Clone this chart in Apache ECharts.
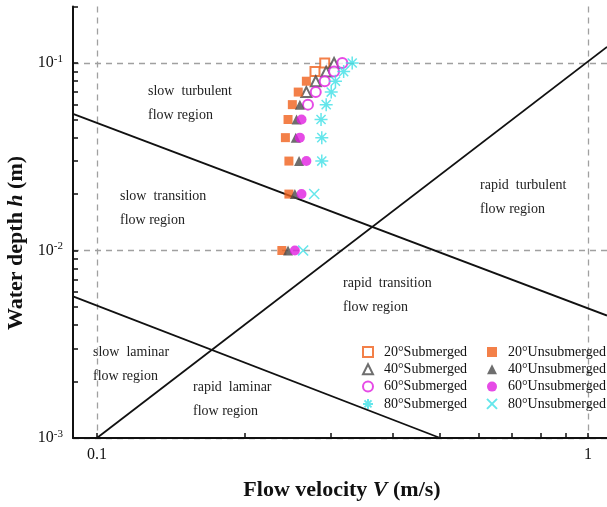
<!DOCTYPE html>
<html>
<head>
<meta charset="utf-8">
<script src="https://cdn.jsdelivr.net/npm/echarts@6/dist/echarts.min.js"></script>
<style>
  html, body { margin: 0; padding: 0; background: #fff; }
  #chart { width: 607px; height: 507px; }
</style>
</head>
<body>
<div id="chart"></div>
<script>
// measured points: velocity V (m/s) and water depth h (m)
const velSub20 = [0.291, 0.278];
const depthSub20 = [0.1, 0.09];
const velUns20 = [0.267, 0.257, 0.250, 0.245, 0.242, 0.246, 0.246, 0.238];
const depthUns20 = [0.08, 0.07, 0.06, 0.05, 0.04, 0.03, 0.02, 0.01];

const velSub40 = [0.304, 0.293, 0.279, 0.267];
const depthSub40 = [0.1, 0.09, 0.08, 0.07];
const velUns40 = [0.259, 0.255, 0.254, 0.258, 0.253, 0.245];
const depthUns40 = [0.06, 0.05, 0.04, 0.03, 0.02, 0.01];

const velSub60 = [0.316, 0.304, 0.291, 0.279, 0.269];
const depthSub60 = [0.1, 0.09, 0.08, 0.07, 0.06];
const velUns60 = [0.261, 0.259, 0.267, 0.261, 0.253];
const depthUns60 = [0.05, 0.04, 0.03, 0.02, 0.01];

const velSub80 = [0.331, 0.318, 0.306, 0.300, 0.293, 0.286, 0.287, 0.287];
const depthSub80 = [0.1, 0.09, 0.08, 0.07, 0.06, 0.05, 0.04, 0.03];
const velUns80 = [0.277, 0.263];
const depthUns80 = [0.02, 0.01];

// region boundary lines (end points)
const lowReV = [0.0894, 0.5];
const lowReH = [0.0057, 0.001];
const highReV = [0.0894, 1.093];
const highReH = [0.0535, 0.0045];
const froudeV = [0.1, 1.093];
const froudeH = [0.001, 0.122];

// ticks
const xMajorTicks = [0.1, 1];
const xMinorTicks = [0.2, 0.3, 0.4, 0.5, 0.6, 0.7, 0.8, 0.9];
const yMajorTicks = [0.001, 0.01, 0.1];
const yMinorTicks = [0.002, 0.003, 0.004, 0.005, 0.006, 0.007, 0.008, 0.009,
  0.02, 0.03, 0.04, 0.05, 0.06, 0.07, 0.08, 0.09, 0.2];

const subNames = ['20°Submerged', '40°Submerged', '60°Submerged', '80°Submerged'];
const unsNames = ['20°Unsubmerged', '40°Unsubmerged', '60°Unsubmerged', '80°Unsubmerged'];

const serif = 'Liberation Serif';
const orange = '#f0601c';
const gray = '#4a4a4a';
const magenta = '#e01ee0';
const cyan = '#3fe0e6';
const asterisk = 'path://M5,0L5,10M0,5L10,5M1.5,1.5L8.5,8.5M1.5,8.5L8.5,1.5';
const cross = 'path://M0,0L10,10M0,10L10,0';

function pairs(vs, hs) {
  return vs.map((v, i) => [v, hs[i]]);
}

function boundary(vs, hs) {
  return {
    type: 'line',
    data: pairs(vs, hs),
    symbol: 'none',
    silent: true,
    lineStyle: { color: '#111', width: 1.8 },
    z: 1
  };
}

function points(name, vs, hs, symbol, size, color, extra) {
  return Object.assign({
    name: name,
    type: 'scatter',
    data: pairs(vs, hs),
    symbol: symbol,
    symbolSize: size,
    itemStyle: { color: color, borderWidth: 1.5 },
    z: 3
  }, extra || {});
}

function legendColumn(names, left) {
  return {
    data: names, orient: 'vertical', left: left, top: 338.5,
    itemWidth: 10, itemHeight: 10, itemGap: 0.3,
    textStyle: { fontFamily: serif, fontSize: 14, color: '#111', lineHeight: 17, padding: [0, 0, 0, 6] }
  };
}

const gridLine = { show: true, lineStyle: { color: '#a0a0a0', type: [6, 5], width: 1.3 } };
const axisLine = { show: true, onZero: false, lineStyle: { color: '#111', width: 2 } };
const tickLine = { color: '#111', width: 1.5 };
const titleRich = { i: { fontStyle: 'italic', fontWeight: 'bold', fontSize: 22, fontFamily: serif } };
const regionFont = '14px "Liberation Serif"';

const chart = echarts.init(document.getElementById('chart'), null, { renderer: 'canvas' });

const option = {
  animation: false,
  grid: { left: 73, right: 0, top: 6.6, bottom: 69 },
  xAxis: [
    {
      type: 'log', min: 0.0894, max: 1.093, position: 'bottom',
      axisLine: axisLine,
      axisTick: { show: true, inside: true, length: 5, customValues: xMinorTicks, lineStyle: tickLine },
      axisLabel: { show: false },
      splitLine: { show: false }
    },
    {
      type: 'log', min: 0.0894, max: 1.093, position: 'bottom',
      axisLine: { show: false },
      axisTick: { show: true, inside: true, length: 5, customValues: xMajorTicks, lineStyle: tickLine },
      axisLabel: {
        customValues: xMajorTicks, margin: 9,
        fontFamily: serif, fontSize: 16, color: '#111',
        formatter: (v) => String(+v.toPrecision(3))
      },
      splitLine: gridLine
    }
  ],
  yAxis: [
    {
      type: 'log', min: 0.001, max: 0.2, position: 'left',
      axisLine: axisLine,
      axisTick: { show: true, inside: true, length: 5, customValues: yMinorTicks, lineStyle: tickLine },
      axisLabel: { show: false },
      splitLine: { show: false }
    },
    {
      type: 'log', min: 0.001, max: 0.2, position: 'left',
      axisLine: { show: false },
      axisTick: { show: true, inside: true, length: 5, customValues: yMajorTicks, lineStyle: tickLine },
      axisLabel: {
        customValues: yMajorTicks, margin: 10,
        fontFamily: serif, fontSize: 16, color: '#111',
        formatter: (v) => '10{sup|' + Math.round(Math.log10(v)) + '}',
        rich: { sup: { fontFamily: serif, fontSize: 11, color: '#111', padding: [0, 0, 8, 0] } }
      },
      splitLine: gridLine
    }
  ],
  legend: [legendColumn(subNames, 357), legendColumn(unsNames, 481)],
  graphic: [
    {
      type: 'text', x: 342, y: 490,
      style: {
        text: 'Flow velocity {i|V} (m/s)', align: 'center', verticalAlign: 'middle',
        font: 'bold 22px "Liberation Serif"', fill: '#111', rich: titleRich
      }
    },
    {
      type: 'text', x: 16, y: 243, rotation: Math.PI / 2,
      style: {
        text: 'Water depth {i|h} (m)', align: 'center', verticalAlign: 'middle',
        font: 'bold 22px "Liberation Serif"', fill: '#111', rich: titleRich
      }
    },
    { type: 'text', x: 148, y: 79, style: { text: 'slow  turbulent\nflow region', font: regionFont, lineHeight: 24, fill: '#222' } },
    { type: 'text', x: 120, y: 184, style: { text: 'slow  transition\nflow region', font: regionFont, lineHeight: 24, fill: '#222' } },
    { type: 'text', x: 480, y: 173, style: { text: 'rapid  turbulent\nflow region', font: regionFont, lineHeight: 24, fill: '#222' } },
    { type: 'text', x: 343, y: 271, style: { text: 'rapid  transition\nflow region', font: regionFont, lineHeight: 24, fill: '#222' } },
    { type: 'text', x: 93, y: 340, style: { text: 'slow  laminar\nflow region', font: regionFont, lineHeight: 24, fill: '#222' } },
    { type: 'text', x: 193, y: 375, style: { text: 'rapid  laminar\nflow region', font: regionFont, lineHeight: 24, fill: '#222' } }
  ],
  series: [
    boundary(lowReV, lowReH),
    boundary(highReV, highReH),
    boundary(froudeV, froudeH),
    points(subNames[0], velSub20, depthSub20, 'emptyRect', 9, orange),
    points(subNames[1], velSub40, depthSub40, 'emptyTriangle', 10, gray),
    points(subNames[2], velSub60, depthSub60, 'emptyCircle', 10, magenta),
    points(subNames[3], velSub80, depthSub80, asterisk, 13, cyan,
      { itemStyle: { color: cyan, borderColor: cyan, borderWidth: 1.5 } }),
    points(unsNames[0], velUns20, depthUns20, 'rect', 9, orange),
    points(unsNames[1], velUns40, depthUns40, 'triangle', 10, gray),
    points(unsNames[2], velUns60, depthUns60, 'circle', 10, magenta),
    points(unsNames[3], velUns80, depthUns80, cross, 10, cyan,
      { itemStyle: { color: cyan, borderColor: cyan, borderWidth: 1.5 } })
  ]
};

chart.setOption(option);
</script>
</body>
</html>
